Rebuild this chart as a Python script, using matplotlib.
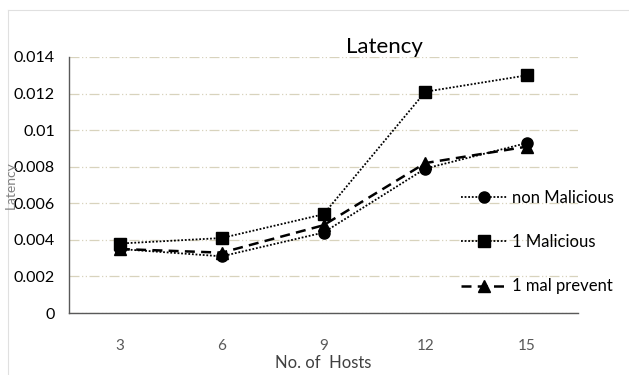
import matplotlib
matplotlib.use("Agg")
import matplotlib.pyplot as plt
from matplotlib.lines import Line2D

hosts = ["3", "6", "9", "12", "15"]
non_malicious = [0.0035, 0.0031, 0.0044, 0.0079, 0.0093]
one_malicious = [0.0038, 0.0041, 0.0054, 0.0121, 0.0130]
one_mal_prevent = [0.0035, 0.0033, 0.0048, 0.0082, 0.0091]
yticks = [0, 0.002, 0.004, 0.006, 0.008, 0.01, 0.012, 0.014]
ytick_labels = ["0", "0.002", "0.004", "0.006", "0.008", "0.01", "0.012", "0.014"]

plt.rcParams['font.family'] = ['Lato', 'DejaVu Sans']

fig = plt.figure(figsize=(6.29, 3.75), dpi=100)
ax = fig.add_axes([0.1097, 0.1653, 0.8093, 0.6827])

x = list(range(len(hosts)))
ax.plot(x, non_malicious, linestyle=(0, (1, 1)), color='black', lw=1.3,
        marker='o', markersize=8, label='non Malicious')
ax.plot(x, one_malicious, linestyle=(0, (1, 1)), color='black', lw=1.3,
        marker='s', markersize=8, label='1 Malicious')
ax.plot(x, one_mal_prevent, linestyle=(0, (4, 2.5)), color='black', lw=1.8,
        marker='^', markersize=8, label='1 mal prevent')

ax.set_xlim(-0.5, len(hosts) - 0.5)
ax.set_ylim(0, 0.014)
ax.set_xticks(x)
ax.set_xticklabels(hosts, color='#595959', fontsize=11)
ax.set_yticks(yticks)
ax.set_yticklabels(ytick_labels, color='black', fontsize=11.5)
ax.tick_params(axis='x', length=0, pad=19)
ax.tick_params(axis='y', length=0, pad=10)

ax.grid(axis='y', color='#d8d3bd', linestyle=(0, (8, 2, 1, 2, 1, 2)), lw=0.9)
ax.set_axisbelow(True)
for s in ['top', 'right']:
    ax.spines[s].set_visible(False)
for s in ['left', 'bottom']:
    ax.spines[s].set_color('#595959')
    ax.spines[s].set_linewidth(1.0)

ax.set_title('Latency', fontsize=16, x=0.62, y=1.0, pad=3, color='black')
ax.set_xlabel('No. of  Hosts', fontsize=12, color='#404040', labelpad=1)
fig.text(11/629, 1 - 185/375, 'Latency', rotation=90, fontsize=10,
         color='#808080', ha='center', va='center')

leg = ax.legend(loc='upper left', bbox_to_anchor=(0.74, 0.54), frameon=False,
                fontsize=12, handlelength=2.8, labelspacing=1.7, handletextpad=0.3)

fig.add_artist(Line2D([8/629, 8/629], [0, 1 - 10/375], transform=fig.transFigure,
                      color='#e0e0e0', lw=0.8))
fig.add_artist(Line2D([8/629, 1], [1 - 10/375, 1 - 10/375], transform=fig.transFigure,
                      color='#e0e0e0', lw=0.8))

fig.savefig('out.png', dpi=100)
